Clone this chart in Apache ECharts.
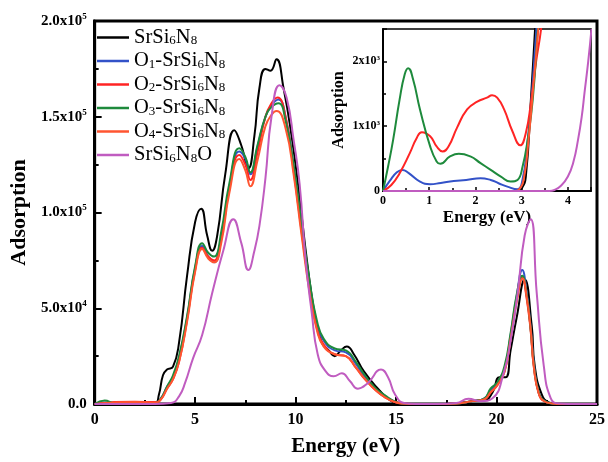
<!DOCTYPE html>
<html>
<head>
<meta charset="utf-8">
<script src="https://cdn.jsdelivr.net/npm/echarts@6/dist/echarts.min.js"></script>
<style>
html, body { margin: 0; padding: 0; background: #fff; }
#chart { width: 608px; height: 462px; }
</style>
</head>
<body>
<div id="chart"></div>
<script>
// series names (digits become subscripts in the legend)
const names = ['SrSi6N8', 'O1-SrSi6N8', 'O2-SrSi6N8', 'O3-SrSi6N8', 'O4-SrSi6N8', 'SrSi6N8O'];
const colors = ['#000000', '#3352c8', '#ff2424', '#1e8a3c', '#ff5530', '#c05cc0'];

// main panel, energy in eV, adsorption in units of 1e3
const yTickLabels = { 0: '0.0', 50: '5.0x10^4', 100: '1.0x10^5', 150: '1.5x10^5', 200: '2.0x10^5' };

const blackE = [0, 0.5, 1, 2, 3, 3.2, 3.4, 3.6, 3.9, 4.2, 4.6, 5.0, 5.3, 5.6, 5.85, 6.1, 6.5, 6.95, 7.3, 7.65, 7.95, 8.2, 8.5, 8.75, 9.05, 9.4, 9.8, 10.15, 10.6, 11.0, 11.3, 11.65, 11.95, 12.25, 12.55, 12.9, 13.4, 14.1, 14.7, 15.2, 16, 17, 18, 18.8, 19.4, 19.8, 20.15, 20.45, 20.7, 21.0, 21.4, 21.75, 21.9, 22.25, 22.6, 23, 24, 25];
const blackV = [0, 0.5, 0.3, 0.5, 0.5, 5, 15, 18, 19.5, 32, 67, 95, 102, 88, 80, 88, 120, 143, 135, 123, 140, 165, 175, 174, 180, 165, 140, 112, 72, 44, 32, 28, 25, 28, 30, 26, 17, 8, 2, 0.3, 0, 0, 0.3, 1.5, 2, 6, 14, 14, 28, 45, 65, 41, 20, 5, 0.8, 0, 0, 0];

const blueE = [0, 0.5, 1, 2, 3, 3.3, 3.6, 3.9, 4.2, 4.6, 5.0, 5.35, 5.65, 5.95, 6.3, 6.7, 7.2, 7.5, 7.75, 8.1, 8.5, 8.8, 9.15, 9.5, 9.9, 10.3, 10.7, 11.05, 11.4, 11.95, 12.5, 13.0, 13.45, 14.0, 14.45, 14.9, 15.3, 16, 17, 18, 18.8, 19.4, 19.7, 20.05, 20.4, 20.7, 21.0, 21.28, 21.5, 21.7, 21.85, 22.1, 22.4, 22.8, 23.2, 24, 25];
const blueV = [0, 0.8, 0.5, 0.5, 0.5, 3, 9, 14, 24, 45, 71, 82.5, 77, 74, 87, 113, 131.8, 128, 120, 134, 150, 156, 159, 150, 124, 92, 62, 42, 33, 28, 27, 21, 14, 7.5, 4, 1.3, 0.3, 0, 0, 0.3, 1.5, 3, 7, 11, 18, 36, 56, 70, 58, 40, 22, 6, 1.5, 0.3, 0, 0, 0];

const redE = [0, 0.5, 1, 2, 3, 3.3, 3.6, 3.9, 4.2, 4.6, 5.0, 5.35, 5.65, 5.95, 6.3, 6.7, 7.2, 7.5, 7.75, 8.1, 8.5, 8.8, 9.1, 9.5, 9.9, 10.3, 10.7, 11.05, 11.4, 11.95, 12.5, 13.0, 13.45, 14.0, 14.45, 14.9, 15.3, 16, 17, 18, 18.8, 19.4, 19.7, 20.05, 20.4, 20.7, 21.0, 21.28, 21.5, 21.7, 21.85, 22.1, 22.4, 22.8, 23.2, 24, 25];
const redV = [0, 0.5, 1, 1.2, 1, 2.5, 8, 13, 22, 44, 70, 81.6, 77, 75, 86, 112, 130, 125, 117, 131, 150, 157, 160, 150, 122, 90, 60, 40, 31, 26, 25, 19, 13, 7, 3.5, 1.2, 0.3, 0, 0, 0.3, 1.5, 2.5, 6, 10, 17, 34, 54, 66, 55, 38, 20, 5.5, 1.3, 0.3, 0, 0, 0];

const greenE = [0, 0.5, 1, 2, 3, 3.3, 3.6, 3.9, 4.2, 4.6, 5.0, 5.35, 5.65, 5.95, 6.3, 6.7, 7.2, 7.5, 7.75, 8.1, 8.5, 8.8, 9.15, 9.5, 9.9, 10.3, 10.7, 11.05, 11.4, 11.95, 12.5, 13.0, 13.45, 14.0, 14.45, 14.9, 15.3, 16, 17, 18, 18.8, 19.4, 19.7, 20.05, 20.4, 20.7, 21.0, 21.28, 21.5, 21.7, 21.85, 22.1, 22.4, 22.8, 23.2, 24, 25];
const greenV = [0, 1.8, 0.5, 0.5, 0.5, 3, 9, 15, 25, 46, 72, 84, 79, 77, 90, 115, 133.5, 129, 121, 135, 150, 155, 157, 148, 125, 94, 64, 44, 34, 29, 28, 22, 15, 8, 4.5, 1.5, 0.3, 0, 0, 0.3, 1.5, 3, 8, 11.5, 20, 37, 57, 67, 57, 39, 21, 6, 1.5, 0.3, 0, 0, 0];

const orangeE = [0, 0.5, 1, 2, 3, 3.3, 3.6, 3.9, 4.2, 4.6, 5.0, 5.35, 5.65, 5.95, 6.3, 6.7, 7.2, 7.5, 7.75, 8.1, 8.5, 8.8, 9.05, 9.5, 9.9, 10.3, 10.7, 11.05, 11.4, 11.95, 12.5, 13.0, 13.45, 14.0, 14.45, 14.9, 15.3, 16, 17, 18, 18.8, 19.4, 19.7, 20.05, 20.4, 20.7, 21.0, 21.3, 21.5, 21.7, 21.85, 22.1, 22.4, 22.8, 23.2, 24, 25];
const orangeV = [0, 0.5, 0.8, 1, 0.8, 2.5, 8, 13, 22, 43, 69, 81, 76, 74, 84, 110, 128, 122, 113.7, 127, 145, 151, 153, 144, 120, 88, 58, 39, 30, 26, 25, 19, 13, 7, 3.5, 1.2, 0.3, 0, 0, 0.3, 1.5, 2.5, 6, 10, 17, 34, 53, 65.5, 56, 39, 20, 5.5, 1.3, 0.3, 0, 0, 0];

const purpleE = [0, 3, 3.8, 4.2, 4.5, 4.9, 5.35, 5.85, 6.4, 6.9, 7.3, 7.65, 7.95, 8.2, 8.5, 8.8, 9.2, 9.55, 9.9, 10.2, 10.5, 10.8, 11.1, 11.5, 11.9, 12.3, 12.7, 13.1, 13.6, 14.25, 14.6, 14.95, 15.4, 16, 17, 18, 18.6, 19.2, 19.8, 20.35, 20.7, 21.05, 21.4, 21.7, 22.0, 22.35, 22.7, 23.1, 24, 25];
const purpleV = [0, 0, 0.5, 4, 11, 24, 36, 58, 80, 96.5, 84, 70, 80, 93, 118, 150, 166.5, 160, 138, 115, 75, 48, 26, 17, 14.5, 16, 12, 8, 11, 18, 14, 5, 0.5, 0, 0, 0.5, 2.8, 1.5, 3, 16, 33, 58, 88, 96.5, 58, 20, 3, 0.3, 0, 0];

// inset panel, energy in eV, adsorption in raw units
const insetYLabels = { 0: '0', 1000: '1x10^3', 2000: '2x10^3' };

const inBlackE = [0, 1, 2, 2.8, 2.9, 3.0, 3.09, 3.2, 3.29, 3.35];
const inBlackV = [0, 0, 0, 0, 5, 40, 223, 1415, 2500, 3200];

const inBlueE = [0, 0.15, 0.3, 0.42, 0.55, 0.8, 1.02, 1.25, 1.53, 1.8, 2.11, 2.33, 2.5, 2.69, 2.91, 3.02, 3.12, 3.22, 3.32, 3.4];
const inBlueV = [0, 160, 290, 326, 280, 145, 104, 125, 155, 170, 197, 171, 120, 67, 26, 180, 700, 1500, 2500, 3200];

const inRedE = [0, 0.18, 0.36, 0.58, 0.73, 0.84, 1.02, 1.16, 1.29, 1.42, 1.6, 1.82, 2.04, 2.25, 2.36, 2.47, 2.62, 2.8, 2.97, 3.09, 3.2, 3.31, 3.42, 3.5];
const inRedV = [0, 93, 275, 585, 819, 907, 845, 689, 611, 689, 974, 1259, 1378, 1440, 1477, 1440, 1259, 922, 705, 896, 1363, 1985, 2500, 3100];

const inGreenE = [0, 0.11, 0.22, 0.36, 0.47, 0.545, 0.65, 0.8, 1.02, 1.16, 1.24, 1.45, 1.64, 1.89, 2.11, 2.33, 2.55, 2.76, 2.91, 3.02, 3.13, 3.24, 3.35, 3.4];
const inGreenV = [0, 378, 793, 1415, 1803, 1896, 1725, 1259, 689, 456, 420, 534, 575, 534, 430, 326, 223, 145, 171, 378, 793, 1415, 2500, 3000];

const inOrangeE = [0, 1, 2, 2.85, 2.95, 3.05, 3.15, 3.25, 3.36, 3.42];
const inOrangeV = [0, 0, 0, 0, 30, 200, 800, 1600, 2500, 3100];

const inPurpleE = [0, 2, 3.6, 3.71, 3.85, 4.0, 4.12, 4.22, 4.3, 4.36, 4.44, 4.51];
const inPurpleV = [0, 0, 0, 16, 80, 223, 450, 793, 1150, 1518, 2000, 2500];

const mainE = [blackE, blueE, redE, greenE, orangeE, purpleE];
const mainV = [blackV, blueV, redV, greenV, orangeV, purpleV];
const insetE = [inBlackE, inBlueE, inRedE, inGreenE, inOrangeE, inPurpleE];
const insetV = [inBlackV, inBlueV, inRedV, inGreenV, inOrangeV, inPurpleV];

const serif = 'Liberation Serif';
const zip = (xs, ys) => xs.map((x, i) => [x, ys[i]]);

function supLabel(text) {
    if (text.indexOf('^') < 0) return '{b|' + text + '}';
    const parts = text.split('^');
    return '{b|' + parts[0] + '}{p|' + parts[1] + '}';
}

var chart = echarts.init(document.getElementById('chart'), null, { renderer: 'canvas' });

var series = [];
names.forEach(function (n, i) {
    series.push({
        name: n, type: 'line', xAxisIndex: 0, yAxisIndex: 0,
        data: zip(mainE[i], mainV[i]),
        smooth: 0.5, symbol: 'none',
        lineStyle: { color: colors[i], width: 2 }, itemStyle: { color: colors[i] }
    });
});
names.forEach(function (n, i) {
    series.push({
        name: n, type: 'line', xAxisIndex: 1, yAxisIndex: 1,
        data: zip(insetE[i], insetV[i]),
        smooth: 0.5, symbol: 'none', clip: true,
        lineStyle: { color: colors[i], width: 2 }, itemStyle: { color: colors[i] }
    });
});

var option = {
    animation: false,
    backgroundColor: '#fff',
    grid: [
        { left: 92, right: 10, top: 21, bottom: 53, show: true, borderColor: '#000', borderWidth: 3 },
        { left: 383, right: 17, top: 29, bottom: 271, show: true, borderColor: '#000', borderWidth: 1.5 }
    ],
    legend: {
        data: names,
        orient: 'vertical', left: 92, top: 22,
        icon: 'rect', itemWidth: 32, itemHeight: 2.5, itemGap: 2.5,
        formatter: function (name) {
            return name.replace(/[^\d]+/g, m => '{a|' + m + '}').replace(/(\d)/g, '{s|$1}');
        },
        textStyle: {
            rich: {
                a: { fontFamily: serif, fontSize: 20.5, color: '#000' },
                s: { fontFamily: serif, fontSize: 13, color: '#000', padding: [7, 0, 0, 0] }
            }
        }
    },
    xAxis: [
        {
            gridIndex: 0, type: 'value', min: 0, max: 25, interval: 5,
            name: 'Energy (eV)', nameLocation: 'middle', nameGap: 32,
            nameTextStyle: { fontFamily: serif, fontWeight: 'bold', fontSize: 21, color: '#000' },
            axisLine: { lineStyle: { color: '#000', width: 3 } },
            axisTick: { inside: true, length: 7, lineStyle: { width: 2 } },
            minorTick: { show: true, splitNumber: 2, length: 4, lineStyle: { color: '#000', width: 2 } },
            axisLabel: { fontFamily: serif, fontWeight: 'bold', fontSize: 16, color: '#000', margin: 8 },
            splitLine: { show: false }
        },
        {
            gridIndex: 1, type: 'value', min: 0, max: 4.5, interval: 1,
            name: 'Energy (eV)', nameLocation: 'middle', nameGap: 18,
            nameTextStyle: { fontFamily: serif, fontWeight: 'bold', fontSize: 17, color: '#000' },
            axisLine: { lineStyle: { color: '#000', width: 2 } },
            axisTick: { inside: true, length: 4, lineStyle: { width: 1.5 } },
            minorTick: { show: true, splitNumber: 2, length: 3, lineStyle: { color: '#000', width: 1.5 } },
            axisLabel: { fontFamily: serif, fontWeight: 'bold', fontSize: 12, color: '#000', margin: 4, showMaxLabel: false },
            splitLine: { show: false }
        }
    ],
    yAxis: [
        {
            gridIndex: 0, type: 'value', min: 0, max: 200, interval: 50,
            name: 'Adsorption', nameLocation: 'middle', nameGap: 44, nameRotate: 90,
            nameTextStyle: { fontFamily: serif, fontWeight: 'bold', fontSize: 22, color: '#000' },
            axisLine: { show: true, lineStyle: { color: '#000', width: 3 } },
            axisTick: { show: true, inside: true, length: 7, lineStyle: { width: 2 } },
            minorTick: { show: true, splitNumber: 2, length: 4, lineStyle: { color: '#000', width: 2 } },
            axisLabel: {
                margin: 8,
                formatter: v => supLabel(yTickLabels[v] || ''),
                rich: {
                    b: { fontFamily: serif, fontWeight: 'bold', fontSize: 15, color: '#000' },
                    p: { fontFamily: serif, fontWeight: 'bold', fontSize: 9, color: '#000', padding: [0, 0, 9, 0] }
                }
            },
            splitLine: { show: false }
        },
        {
            gridIndex: 1, type: 'value', min: 0, max: 2500, interval: 1000,
            name: 'Adsorption', nameLocation: 'middle', nameGap: 36, nameRotate: 90,
            nameTextStyle: { fontFamily: serif, fontWeight: 'bold', fontSize: 16, color: '#000' },
            axisLine: { show: true, lineStyle: { color: '#000', width: 2 } },
            axisTick: { show: true, inside: true, length: 4, lineStyle: { width: 1.5 } },
            minorTick: { show: true, splitNumber: 2, length: 3, lineStyle: { color: '#000', width: 1.5 } },
            axisLabel: {
                margin: 3, showMaxLabel: false,
                formatter: v => supLabel(insetYLabels[v] || ''),
                rich: {
                    b: { fontFamily: serif, fontWeight: 'bold', fontSize: 12, color: '#000' },
                    p: { fontFamily: serif, fontWeight: 'bold', fontSize: 7, color: '#000', padding: [0, 0, 6, 0] }
                }
            },
            splitLine: { show: false }
        }
    ],
    series: series
};

chart.setOption(option);
window.addEventListener('resize', chart.resize);
</script>
</body>
</html>
